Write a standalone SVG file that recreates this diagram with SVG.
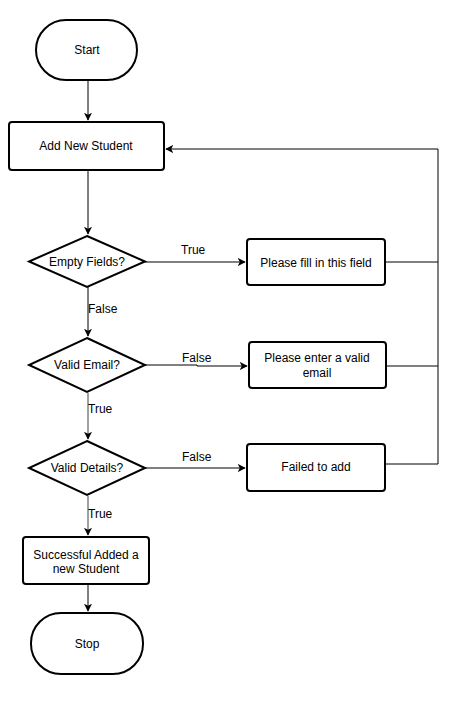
<svg xmlns="http://www.w3.org/2000/svg" width="457" height="713" viewBox="0 0 457 713">
<defs>
<marker id="arr" viewBox="0 0 10 10" refX="9" refY="5" markerWidth="8" markerHeight="8" markerUnits="userSpaceOnUse" orient="auto">
<path d="M0,0 L10,5 L0,10 L2.5,5 z" fill="#000"/>
</marker>
<style>
.shape{fill:#fff;stroke:#000;stroke-width:2}
.t{font-family:"Liberation Sans",Arial,sans-serif;font-size:12px;fill:#000;text-anchor:middle;dominant-baseline:central}
.lbl{font-family:"Liberation Sans",Arial,sans-serif;font-size:12px;fill:#000}
.c{fill:none;stroke:#000;stroke-width:1}
.g{fill:none;stroke:#808080;stroke-width:1.5}
</style>
</defs>
<rect width="457" height="713" fill="#fff"/>
<g id="connectors">
<path class="c" d="M88,80 V120" marker-end="url(#arr)"/>
<path class="c" d="M88,170 V234" marker-end="url(#arr)"/>
<path class="c" d="M88,287 V336" marker-end="url(#arr)"/>
<path class="g" d="M88,393 V439" marker-end="url(#arr)"/>
<path class="g" d="M88,496 V535" marker-end="url(#arr)"/>
<path class="c" d="M88,584 V611" marker-end="url(#arr)"/>
<path class="c" d="M145,262 H245" marker-end="url(#arr)"/>
<path class="c" d="M145,365 H197 V366 H247" marker-end="url(#arr)"/>
<path class="c" d="M145,468 H245" marker-end="url(#arr)"/>
<path class="c" d="M385,262 H438"/>
<path class="c" d="M386,366 H438"/>
<path class="c" d="M385,464 H438 V149 H166" marker-end="url(#arr)"/>
<text class="lbl" x="181" y="254">True</text>
<text class="lbl" x="88" y="313">False</text>
<text class="lbl" x="182" y="362">False</text>
<text class="lbl" x="88" y="413">True</text>
<text class="lbl" x="182" y="461">False</text>
<text class="lbl" x="88" y="518">True</text>
</g>
<g id="start">
<rect class="shape" x="36" y="20" width="101" height="60" rx="30" ry="30"/>
<text class="t" x="87" y="50">Start</text>
</g>
<g id="add-new-student">
<rect class="shape" x="9" y="122" width="155" height="48" rx="3"/>
<text class="t" x="86" y="146">Add New Student</text>
</g>
<g id="empty-fields">
<polygon class="shape" points="87,236 145,261.5 87,287 29,261.5"/>
<text class="t" x="87" y="262">Empty Fields?</text>
</g>
<g id="valid-email">
<polygon class="shape" points="87,338 145,365 87,392 29,365"/>
<text class="t" x="87" y="365">Valid Email?</text>
</g>
<g id="valid-details">
<polygon class="shape" points="87,441 145,468 87,495 29,468"/>
<text class="t" x="87" y="468">Valid Details?</text>
</g>
<g id="successful">
<rect class="shape" x="23" y="537" width="126" height="47" rx="3"/>
<text class="t" x="86" y="555">Successful Added a</text>
<text class="t" x="86" y="569">new Student</text>
</g>
<g id="stop">
<rect class="shape" x="31" y="613" width="112" height="61" rx="30" ry="30"/>
<text class="t" x="87" y="644">Stop</text>
</g>
<g id="please-fill">
<rect class="shape" x="247" y="239" width="138" height="46" rx="3"/>
<text class="t" x="316" y="263">Please fill in this field</text>
</g>
<g id="please-enter-email">
<rect class="shape" x="249" y="342" width="137" height="46" rx="3"/>
<text class="t" x="317" y="358">Please enter a valid</text>
<text class="t" x="317" y="373">email</text>
</g>
<g id="failed-to-add">
<rect class="shape" x="247" y="444" width="138" height="47" rx="3"/>
<text class="t" x="316" y="467">Failed to add</text>
</g>
</svg>
